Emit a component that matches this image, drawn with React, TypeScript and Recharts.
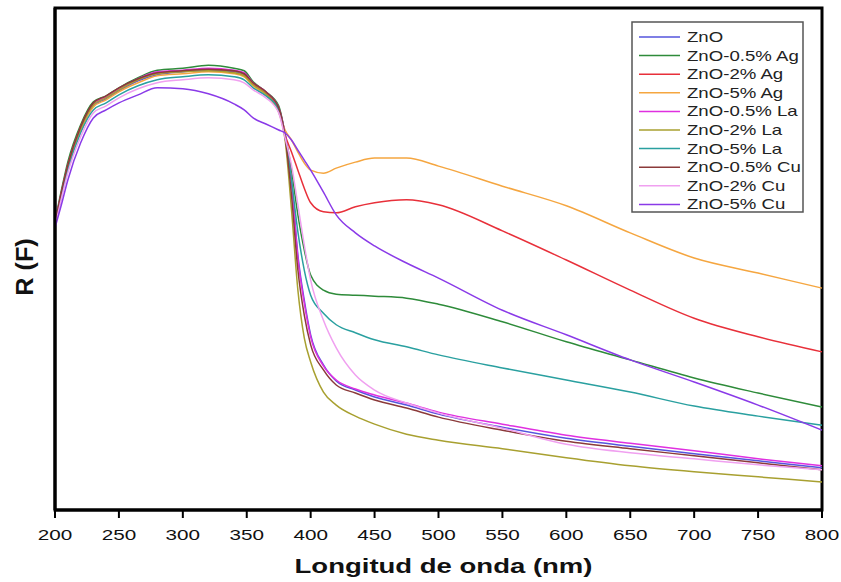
import React from "react";
import {
  LineChart,
  Line,
  XAxis,
  YAxis,
  ReferenceArea,
} from "recharts";

// wavelength grid (nm) and R(F) readings in arbitrary units (0-100 full scale)
const WAVELENGTH = [
  200, 205, 210, 220, 230, 240, 250, 265, 280, 300, 320, 340, 348, 355, 365, 375,
  380, 385, 390, 395, 400, 410, 420, 435, 450, 475, 500, 550, 600, 650, 700, 750, 800,
];

const ZNO = [
  56.8, 62.7, 68.1, 75.7, 80.5, 81.9, 83.5, 85.5, 86.7, 87.3, 87.6, 87.3, 86.7, 84.9, 83.1, 80.1,
  74.7, 65.7, 50.8, 41.8, 34.9, 28.9, 25.7, 23.9, 22.5, 20.9, 19.1, 16.5, 14.3, 12.7, 11.2, 9.8, 8.4,
];
const AG_05 = [
  57.4, 63.7, 69.3, 76.7, 81.3, 82.5, 84.1, 86.1, 87.6, 88.0, 88.6, 88.0, 87.5, 85.3, 83.3, 80.5,
  74.9, 67.7, 58.8, 51.8, 46.8, 43.8, 43.0, 42.8, 42.6, 42.2, 41.0, 37.5, 33.5, 29.9, 26.3, 23.3, 20.5,
];
const AG_2 = [
  57.0, 63.1, 68.7, 76.3, 80.9, 82.3, 83.9, 85.7, 87.1, 87.5, 87.8, 87.5, 86.9, 84.9, 83.1, 79.7,
  74.7, 71.3, 67.7, 64.1, 61.2, 59.4, 59.2, 60.4, 61.2, 61.8, 60.8, 55.6, 49.8, 43.8, 38.2, 34.5, 31.5,
];
const AG_5 = [
  56.6, 62.5, 67.9, 75.5, 80.3, 81.7, 83.3, 85.1, 86.5, 86.9, 87.3, 86.9, 86.3, 84.5, 82.7, 79.3,
  75.7, 73.7, 71.3, 69.1, 67.7, 67.1, 68.1, 69.3, 70.1, 70.1, 68.5, 64.5, 60.6, 55.2, 50.2, 47.2, 44.2,
];
const LA_05 = [
  57.0, 63.1, 68.5, 76.1, 80.9, 82.3, 83.9, 85.9, 87.3, 87.6, 88.0, 87.6, 87.1, 85.1, 83.3, 80.1,
  74.7, 65.3, 50.2, 41.2, 34.5, 28.7, 25.9, 24.1, 22.9, 21.3, 19.5, 17.1, 14.9, 13.3, 11.8, 10.2, 8.8,
];
const LA_2 = [
  56.8, 62.9, 68.3, 75.9, 80.7, 82.1, 83.7, 85.7, 86.9, 87.3, 87.5, 87.1, 86.5, 84.7, 82.9, 79.3,
  73.7, 59.8, 43.8, 34.3, 29.5, 23.5, 20.9, 18.7, 17.1, 15.1, 13.9, 12.2, 10.4, 8.8, 7.6, 6.6, 5.6,
];
const LA_5 = [
  56.6, 62.5, 67.7, 75.1, 79.7, 81.1, 82.7, 84.5, 85.7, 86.3, 86.7, 86.3, 85.7, 84.1, 82.5, 79.7,
  74.3, 65.7, 55.4, 47.8, 42.8, 39.2, 36.9, 35.3, 33.9, 32.5, 30.9, 28.3, 25.9, 23.5, 20.7, 18.7, 16.9,
];
const CU_05 = [
  57.0, 63.3, 68.7, 76.3, 81.1, 82.5, 84.1, 85.9, 87.1, 87.5, 87.8, 87.5, 86.9, 85.1, 83.3, 80.1,
  74.3, 62.7, 47.8, 38.8, 32.9, 27.9, 24.9, 23.3, 21.9, 20.3, 18.5, 15.9, 13.7, 12.2, 10.8, 9.4, 8.0,
];
const CU_2 = [
  56.4, 62.0, 67.1, 74.3, 79.1, 80.5, 82.1, 83.9, 85.1, 85.7, 86.1, 85.7, 85.1, 83.7, 82.1, 79.1,
  74.1, 68.7, 60.8, 52.8, 45.8, 37.8, 32.3, 26.9, 23.9, 21.3, 19.3, 16.3, 13.1, 11.4, 10.2, 9.0, 8.0,
];
const CU_5 = [
  56.2, 60.8, 65.7, 73.1, 78.1, 79.7, 81.1, 82.7, 84.1, 83.9, 82.9, 80.9, 79.7, 78.1, 76.9, 75.7,
  75.1, 73.7, 71.7, 69.7, 67.7, 63.3, 58.8, 55.2, 52.6, 49.2, 46.2, 39.8, 34.9, 29.9, 25.5, 20.9, 15.9,
];

const X_TICKS = [200, 250, 300, 350, 400, 450, 500, 550, 600, 650, 700, 750, 800];

const SERIES = [
  { key: "zno", name: "ZnO", color: "#5555dd", values: ZNO },
  { key: "ag05", name: "ZnO-0.5% Ag", color: "#2e8b3a", values: AG_05 },
  { key: "ag2", name: "ZnO-2% Ag", color: "#e8303a", values: AG_2 },
  { key: "ag5", name: "ZnO-5% Ag", color: "#f5a640", values: AG_5 },
  { key: "la05", name: "ZnO-0.5% La", color: "#e030e0", values: LA_05 },
  { key: "la2", name: "ZnO-2% La", color: "#a8a030", values: LA_2 },
  { key: "la5", name: "ZnO-5% La", color: "#2aa0a0", values: LA_5 },
  { key: "cu05", name: "ZnO-0.5% Cu", color: "#8b3a3a", values: CU_05 },
  { key: "cu2", name: "ZnO-2% Cu", color: "#f0a0f0", values: CU_2 },
  { key: "cu5", name: "ZnO-5% Cu", color: "#8a3ae8", values: CU_5 },
];

const data = WAVELENGTH.map((wl, i) => {
  const row: Record<string, number> = { wl };
  SERIES.forEach((s) => {
    row[s.key] = s.values[i];
  });
  return row;
});

const FONT = "Arial, 'Liberation Sans', sans-serif";

// the source image is stretched sideways, so text gets a horizontal scale
function XTick({ x, y, payload }: any) {
  return (
    <text
      transform={`translate(${x},${y + 20}) scale(1.38,1)`}
      textAnchor="middle"
      fontSize={15}
      fontFamily={FONT}
      fill="#111"
    >
      {payload.value}
    </text>
  );
}

function XTitle({ viewBox }: any) {
  const cx = viewBox ? viewBox.x + viewBox.width / 2 + 5 : 443;
  const y = viewBox ? viewBox.y + 63 : 573;
  return (
    <text
      transform={`translate(${cx},${y}) scale(1.31,1)`}
      textAnchor="middle"
      fontSize={21}
      fontWeight="bold"
      fontFamily={FONT}
      fill="#111"
    >
      Longitud de onda (nm)
    </text>
  );
}

function YTitle({ viewBox }: any) {
  const cy = viewBox ? viewBox.y + viewBox.height / 2 + 8 : 258;
  return (
    <text
      transform={`translate(33,${cy}) rotate(-90) scale(1.05,1)`}
      textAnchor="middle"
      fontSize={24}
      fontWeight="bold"
      fontFamily={FONT}
      fill="#111"
    >
      R (F)
    </text>
  );
}

function LegendBox() {
  const rowH = 18.6;
  return (
    <svg
      width={174}
      height={194}
      style={{ position: "absolute", left: 631, top: 21 }}
    >
      <rect x={1} y={1} width={171} height={190} fill="#fff" stroke="#555" strokeWidth={1.5} />
      {SERIES.map((s, i) => {
        const cy = 16 + i * rowH;
        return (
          <g key={s.key}>
            <line x1={8} x2={49} y1={cy} y2={cy} stroke={s.color} strokeWidth={1.5} />
            <text
              transform={`translate(56,${cy + 5}) scale(1.33,1)`}
              fontSize={14}
              fontFamily={FONT}
              fill="#222"
            >
              {s.name}
            </text>
          </g>
        );
      })}
    </svg>
  );
}

export default function App() {
  return (
    <div style={{ position: "relative", width: 841, height: 582, background: "#fff" }}>
      <style>{`body{margin:0;}`}</style>
      <LineChart
        width={841}
        height={582}
        data={data}
        margin={{ top: 8, right: 19, bottom: 0, left: 0 }}
      >
        <XAxis
          dataKey="wl"
          type="number"
          domain={[200, 800]}
          ticks={X_TICKS}
          height={72}
          tickSize={8}
          tick={<XTick />}
          axisLine={{ stroke: "#000", strokeWidth: 3 }}
          tickLine={{ stroke: "#000", strokeWidth: 2 }}
          label={<XTitle />}
        />
        <YAxis
          type="number"
          domain={[0, 100]}
          width={55}
          tick={false}
          tickLine={false}
          axisLine={{ stroke: "#000", strokeWidth: 3 }}
          label={<YTitle />}
        />
        <ReferenceArea
          x1={200}
          x2={800}
          y1={0}
          y2={100}
          fill="none"
          fillOpacity={0}
          stroke="#000"
          strokeWidth={3}
        />
        {SERIES.map((s) => (
          <Line
            key={s.key}
            type="monotone"
            dataKey={s.key}
            name={s.name}
            stroke={s.color}
            strokeWidth={1.5}
            dot={false}
            isAnimationActive={false}
          />
        ))}
      </LineChart>
      <LegendBox />
    </div>
  );
}
